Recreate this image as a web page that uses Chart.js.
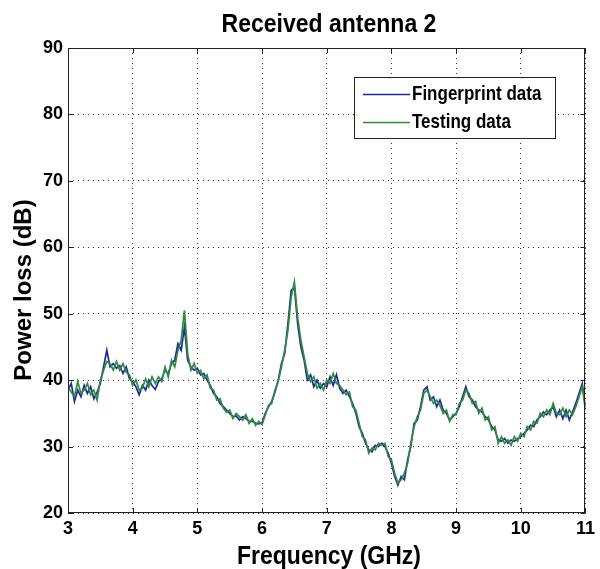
<!DOCTYPE html>
<html>
<head>
<meta charset="utf-8">
<script src="https://cdn.jsdelivr.net/npm/chart.js@4/dist/chart.umd.min.js"></script>
<style>
html,body{margin:0;padding:0;background:#fff;}
#wrap{width:600px;height:569px;position:relative;}
</style>
</head>
<body>
<div id="wrap"><canvas id="c" width="600" height="569"></canvas></div>
<script>
const titleText = "Received antenna 2";
const xLabel = "Frequency (GHz)";
const yLabel = "Power loss (dB)";
const seriesNames = ["Fingerprint data", "Testing data"];
const xTicks = [3,4,5,6,7,8,9,10,11];
const yTicks = [20,30,40,50,60,70,80,90];

const freqGHz = [
3.00,3.05,3.10,3.15,3.20,3.25,3.30,3.35,3.40,3.45,3.50,3.55,3.60,3.65,3.70,3.75,3.80,3.85,3.90,3.95,
4.00,4.05,4.10,4.15,4.20,4.25,4.30,4.35,4.40,4.45,4.50,4.55,4.60,4.65,4.70,4.75,4.80,4.85,4.90,4.95,
5.00,5.05,5.10,5.15,5.20,5.25,5.30,5.35,5.40,5.45,5.50,5.55,5.60,5.65,5.70,5.75,5.80,5.85,5.90,5.95,
6.00,6.05,6.10,6.15,6.20,6.25,6.30,6.35,6.40,6.45,6.50,6.55,6.60,6.65,6.70,6.75,6.80,6.85,6.90,6.95,
7.00,7.05,7.10,7.15,7.20,7.25,7.30,7.35,7.40,7.45,7.50,7.55,7.60,7.65,7.70,7.75,7.80,7.85,7.90,7.95,
8.00,8.05,8.10,8.15,8.20,8.25,8.30,8.35,8.40,8.45,8.50,8.55,8.60,8.65,8.70,8.75,8.80,8.85,8.90,8.95,
9.00,9.05,9.10,9.15,9.20,9.25,9.30,9.35,9.40,9.45,9.50,9.55,9.60,9.65,9.70,9.75,9.80,9.85,9.90,9.95,
10.00,10.05,10.10,10.15,10.20,10.25,10.30,10.35,10.40,10.45,10.50,10.55,10.60,10.65,10.70,10.75,10.80,10.85,10.90,10.95,
11.00];

const fingerprint = [
38.5,39.5,36.8,38.5,37.5,39.2,38.0,39.0,37.2,38.2,39.5,42.0,44.5,42.0,42.5,41.8,42.2,41.0,42.0,40.2,
39.8,39.0,37.8,39.2,38.5,40.0,39.2,38.6,39.8,40.2,41.5,41.0,42.5,43.0,45.5,44.5,48.0,43.0,42.0,41.5,
41.8,40.8,41.0,40.0,39.2,38.0,37.5,36.5,36.0,35.5,35.0,34.5,34.6,34.0,34.5,34.2,33.8,33.8,33.5,33.4,
33.6,35.0,36.0,36.8,38.2,40.0,42.5,44.0,48.5,53.5,54.0,48.5,45.0,43.0,40.0,40.8,39.0,40.0,38.8,39.5,
39.0,40.5,39.2,40.8,38.8,38.0,38.5,37.5,36.5,35.0,33.0,32.0,30.5,29.5,29.2,30.2,30.0,30.5,30.0,29.0,
27.5,25.5,24.2,25.5,25.0,28.0,30.0,33.5,34.0,36.0,38.5,39.0,37.0,37.5,36.0,37.0,35.5,35.0,34.0,34.5,
35.0,36.0,37.5,39.0,37.5,37.0,36.0,35.5,35.2,34.5,34.0,33.0,32.5,31.0,30.8,31.2,30.5,31.0,30.8,31.2,
31.5,32.0,32.5,33.2,33.0,34.0,34.5,35.2,34.8,35.5,36.0,34.5,35.5,34.2,35.5,34.0,35.2,36.5,38.0,39.5,
36.0];

const testing = [
39.0,38.2,37.5,39.8,38.0,38.5,39.5,37.8,38.5,37.0,40.0,41.5,42.8,42.5,41.5,42.8,41.5,42.5,41.2,40.8,
39.2,40.0,38.5,38.8,40.2,39.0,40.5,39.5,40.5,39.8,42.0,40.5,43.0,42.0,44.5,46.0,50.5,44.0,41.5,42.5,
41.0,41.5,40.2,40.8,38.8,38.5,37.0,37.2,35.8,35.2,35.5,34.2,35.0,34.5,34.0,34.8,33.5,34.2,33.2,33.8,
33.3,34.8,36.2,36.5,38.5,39.8,42.0,44.5,47.5,52.5,54.8,49.5,46.0,43.5,41.0,39.8,40.5,38.8,39.5,38.5,
40.0,39.5,41.0,39.5,39.2,38.5,37.8,38.2,36.0,35.5,33.5,31.5,31.0,29.0,29.8,29.5,30.5,30.2,30.5,28.5,
28.0,26.0,24.5,25.0,26.0,27.5,30.5,33.0,34.5,35.5,38.0,38.5,37.5,36.5,37.0,36.2,35.0,35.5,33.8,34.8,
34.8,36.5,37.0,38.5,38.0,36.5,36.8,35.0,35.8,34.0,34.5,32.5,33.0,30.5,31.5,30.5,31.0,30.2,31.5,30.8,
32.0,31.5,33.0,32.5,33.8,33.5,35.0,34.5,35.5,34.8,36.5,35.0,34.8,35.8,34.5,35.5,34.8,36.0,37.5,39.0,
35.5];

const blue = '#1f2a9a';
const green = '#2f8c3c';

function toPoints(xs, ys){ return xs.map((x,i)=>({x:x, y:ys[i]})); }

const FONT = '"Liberation Sans", Arial, Helvetica, sans-serif';

const decor = {
  id: 'decor',
  afterDraw(chart){
    const ctx = chart.ctx;
    const a = chart.chartArea;
    const xs = chart.scales.x, ys = chart.scales.y;
    ctx.save();
    ctx.strokeStyle = '#222';
    ctx.lineWidth = 1;
    ctx.strokeRect(Math.round(a.left)+0.5, Math.round(a.top)+0.5, Math.round(a.right-a.left)-1, Math.round(a.bottom-a.top)-1);
    ctx.beginPath();
    xTicks.forEach(v=>{
      const px = Math.round(xs.getPixelForValue(v))+0.5;
      ctx.moveTo(px, a.bottom); ctx.lineTo(px, a.bottom-5);
      ctx.moveTo(px, a.top); ctx.lineTo(px, a.top+5);
    });
    yTicks.forEach(v=>{
      const py = Math.round(ys.getPixelForValue(v))+0.5;
      ctx.moveTo(a.left, py); ctx.lineTo(a.left+5, py);
      ctx.moveTo(a.right, py); ctx.lineTo(a.right-5, py);
    });
    ctx.stroke();

    ctx.fillStyle = '#000';
    ctx.font = 'bold 23px ' + FONT;
    ctx.textAlign = 'center';
    ctx.textBaseline = 'alphabetic';
    ctx.save(); ctx.translate(329, 32); ctx.scale(1, 1.1); ctx.fillText(titleText, 0, 0); ctx.restore();
    ctx.save(); ctx.translate(329, 564); ctx.scale(1, 1.1); ctx.fillText(xLabel, 0, 0); ctx.restore();
    ctx.save();
    ctx.translate(24, 290);
    ctx.rotate(-Math.PI/2);
    ctx.font = 'bold 24px ' + FONT;
    ctx.textBaseline = 'middle';
    ctx.fillText(yLabel, 0, 0);
    ctx.restore();

    const lx = 354.5, ly = 77.5, lw = 201, lh = 61;
    ctx.fillStyle = '#fff';
    ctx.fillRect(lx, ly, lw, lh);
    ctx.strokeStyle = '#222';
    ctx.lineWidth = 1;
    ctx.strokeRect(lx, ly, lw, lh);
    const rows = [{c: blue, t: seriesNames[0], y: 94.5}, {c: green, t: seriesNames[1], y: 122.5}];
    rows.forEach(r=>{
      ctx.strokeStyle = r.c;
      ctx.lineWidth = 1.3;
      ctx.beginPath(); ctx.moveTo(363, r.y); ctx.lineTo(410, r.y); ctx.stroke();
      ctx.fillStyle = '#000';
      ctx.font = 'bold 17px ' + FONT;
      ctx.textAlign = 'left';
      ctx.textBaseline = 'middle';
      ctx.save(); ctx.translate(412, r.y); ctx.scale(1, 1.2); ctx.fillText(r.t, 0, 0); ctx.restore();
    });
    ctx.restore();
  }
};

new Chart(document.getElementById('c'), {
  type: 'line',
  data: {
    datasets: [
      { label: seriesNames[0], data: toPoints(freqGHz, fingerprint), borderColor: blue, borderWidth: 1.7, pointRadius: 0, tension: 0, fill: false, order: 2 },
      { label: seriesNames[1], data: toPoints(freqGHz, testing), borderColor: green, borderWidth: 1.7, pointRadius: 0, tension: 0, fill: false, order: 1 }
    ]
  },
  options: {
    responsive: false,
    animation: false,
    devicePixelRatio: 1,
    layout: { padding: { top: 48, right: 7, bottom: 0, left: 0 } },
    plugins: { legend: { display: false }, title: { display: false }, tooltip: { enabled: false } },
    scales: {
      x: {
        type: 'linear', min: 3, max: 11,
        afterFit(s){ s.height = 56; },
        afterBuildTicks(s){ s.ticks = xTicks.map(v=>({value:v})); },
        ticks: { color: '#000', font: { family: FONT, size: 18, weight: 'bold' }, padding: 5, maxRotation: 0, autoSkip: false },
        grid: { color: '#333', lineWidth: 1, drawTicks: false },
        border: { display: false, dash: [1, 4] }
      },
      y: {
        type: 'linear', min: 20, max: 90,
        afterFit(s){ s.width = 68; },
        afterBuildTicks(s){ s.ticks = yTicks.map(v=>({value:v})); },
        ticks: { color: '#000', font: { family: FONT, size: 18, weight: 'bold' }, padding: 5 },
        grid: { color: '#333', lineWidth: 1, drawTicks: false },
        border: { display: false, dash: [1, 4] }
      }
    }
  },
  plugins: [decor]
});
</script>
</body>
</html>
